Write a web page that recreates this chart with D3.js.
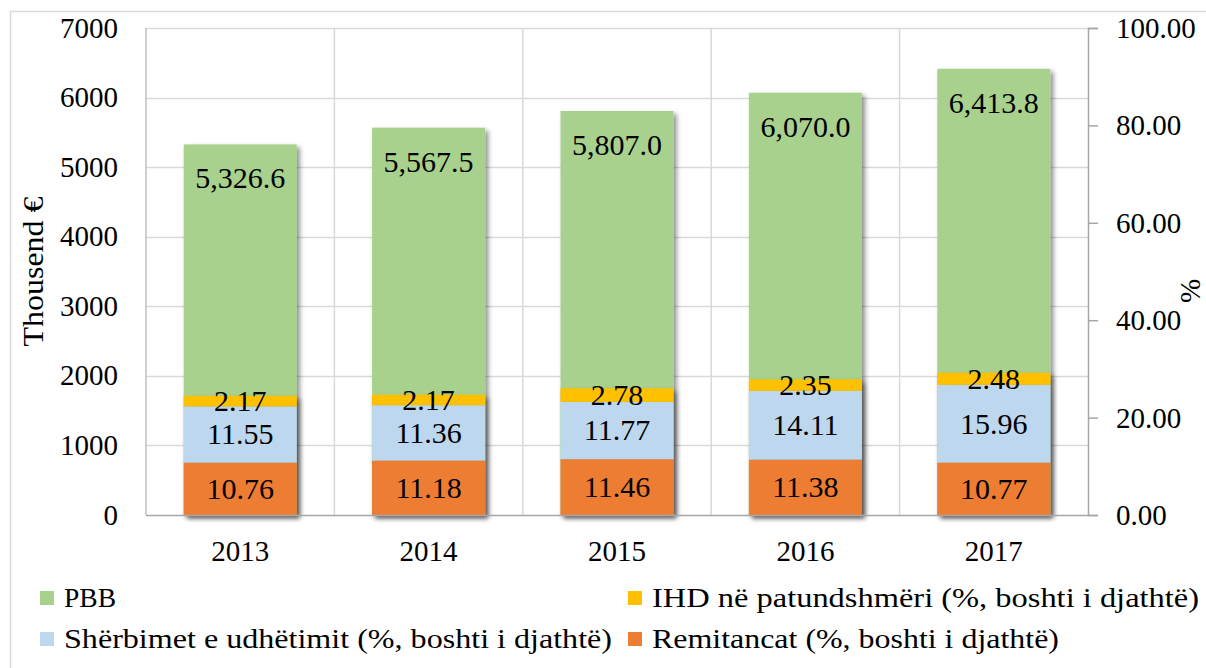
<!DOCTYPE html>
<html><head><meta charset="utf-8">
<script src="https://cdn.jsdelivr.net/npm/d3@7"></script>
<style>body{margin:0;background:#fff}svg{display:block}</style>
</head><body>
<svg id="c" width="1206" height="668"></svg>
<script>
const years = ["2013","2014","2015","2016","2017"];
const pbb = [5326.6, 5567.5, 5807.0, 6070.0, 6413.8];
const remitancat = [10.76, 11.18, 11.46, 11.38, 10.77];
const sherbimet = [11.55, 11.36, 11.77, 14.11, 15.96];
const ihd = [2.17, 2.17, 2.78, 2.35, 2.48];
const leftTicks = [0,1000,2000,3000,4000,5000,6000,7000];
const rightTicks = [0,20,40,60,80,100];
const legendNames = ["PBB","IHD në patundshmëri (%, boshti i djathtë)","Shërbimet e udhëtimit (%, boshti i djathtë)","Remitancat (%, boshti i djathtë)"];

const FONT = "'Liberation Serif', serif";
const FS = 29;
const svg = d3.select("#c");
const m = {l:146, r:1088, t:28, b:515};
const x = d3.scaleBand().domain(years).range([m.l,m.r]).paddingInner(0.4).paddingOuter(0.2);
const yL = d3.scaleLinear().domain([0,7000]).range([m.b,m.t]);
const yR = d3.scaleLinear().domain([0,100]).range([m.b,m.t]);

const defs = svg.append("defs");
const f = defs.append("filter").attr("id","sh").attr("x","-10%").attr("y","-10%").attr("width","130%").attr("height","130%");
f.append("feDropShadow").attr("dx",3).attr("dy",3).attr("stdDeviation",2.5).attr("flood-color","#000").attr("flood-opacity",0.45);

// outer frame
svg.append("rect").attr("x",10.5).attr("y",11.5).attr("width",1400).attr("height",800).attr("fill","none").attr("stroke","#d9d9d9").attr("stroke-width",1.5);

// gridlines
const g = svg.append("g");
g.selectAll("line.h").data(leftTicks.slice(1)).join("line")
 .attr("x1",m.l).attr("x2",m.r).attr("y1",d=>Math.round(yL(d))+0.5).attr("y2",d=>Math.round(yL(d))+0.5)
 .attr("stroke","#d9d9d9").attr("stroke-width",1.5);
const bounds = years.slice(1).map(y=>x(y)-x.step()*x.paddingInner()/2);
g.selectAll("line.v").data(bounds).join("line")
 .attr("x1",d=>d).attr("x2",d=>d).attr("y1",m.t).attr("y2",m.b)
 .attr("stroke","#d9d9d9").attr("stroke-width",1.5);

// bars
const data = years.map((yr,i)=>({yr, pbb:pbb[i], rem:remitancat[i], ser:sherbimet[i], ihd:ihd[i]}));
svg.append("g").selectAll("rect").data(data).join("rect")
 .attr("x",d=>x(d.yr)).attr("width",x.bandwidth())
 .attr("y",d=>yL(d.pbb)).attr("height",d=>yL(0)-yL(d.pbb))
 .attr("fill","#A9D18E").attr("filter","url(#sh)");
const stackKeys = [["rem","#ED7D31"],["ser","#BDD7EE"],["ihd","#FFC000"]];
const stackG = svg.append("g").attr("filter","url(#sh)");
data.forEach(d=>{
  let base=0;
  d.segs=[];
  stackKeys.forEach(([k,c])=>{
    d.segs.push({k,c,y0:base,y1:base+d[k],v:d[k]});
    base+=d[k];
  });
});
data.forEach(d=>{
  stackG.selectAll(null).data(d.segs).join("rect")
   .attr("x",x(d.yr)).attr("width",x.bandwidth())
   .attr("y",s=>yR(s.y1)).attr("height",s=>yR(s.y0)-yR(s.y1))
   .attr("fill",s=>s.c);
});

// axes
const axL = svg.append("g");
axL.append("line").attr("x1",m.l).attr("x2",m.l).attr("y1",m.t).attr("y2",m.b).attr("stroke","#bfbfbf").attr("stroke-width",1.5);
axL.append("line").attr("x1",m.l).attr("x2",m.r).attr("y1",m.b+0.5).attr("y2",m.b+0.5).attr("stroke","#a6a6a6").attr("stroke-width",1.5);
axL.selectAll("text").data(leftTicks).join("text")
 .attr("x",118).attr("y",d=>yL(d)).attr("dy","0.33em").attr("text-anchor","end")
 .attr("font-family",FONT).attr("font-size",FS).attr("fill","#000").text(d=>d);

const axR = svg.append("g").attr("transform",`translate(${m.r},0)`)
 .call(d3.axisRight(yR).tickValues(rightTicks).tickSize(10).tickPadding(18).tickFormat(d3.format(".2f")));
axR.select(".domain").attr("stroke","#a6a6a6").attr("stroke-width",1.5);
axR.selectAll(".tick line").attr("stroke","#a6a6a6").attr("stroke-width",1.5);
axR.selectAll(".tick text").attr("font-family",FONT).attr("font-size",FS).attr("fill","#000").attr("dy","0.33em");

// x labels
svg.append("g").selectAll("text").data(years).join("text")
 .attr("x",d=>x(d)+x.bandwidth()/2).attr("y",561).attr("text-anchor","middle")
 .attr("font-family",FONT).attr("font-size",FS).text(d=>d);

// axis titles
svg.append("text").attr("transform",`translate(33,${(m.t+m.b)/2}) rotate(-90)`).attr("text-anchor","middle").attr("dy","0.33em")
 .attr("font-family",FONT).attr("font-size",FS).attr("textLength",150).attr("lengthAdjust","spacingAndGlyphs").text("Thousend €");
svg.append("text").attr("transform",`translate(1190,291) rotate(-90)`).attr("text-anchor","middle").attr("dy","0.33em")
 .attr("font-family",FONT).attr("font-size",FS).text("%");

// labels
const fmt = d3.format(",.1f");
const lab = svg.append("g").attr("font-family",FONT).attr("font-size",30).attr("text-anchor","middle");
lab.selectAll("text.p").data(data).join("text")
 .attr("x",d=>x(d.yr)+x.bandwidth()/2).attr("y",d=>yL(d.pbb)+34).attr("dy","0.33em").text(d=>fmt(d.pbb));
data.forEach(d=>{
  lab.selectAll(null).data(d.segs).join("text")
   .attr("x",x(d.yr)+x.bandwidth()/2).attr("y",s=>yR((s.y0+s.y1)/2)).attr("dy","0.33em")
   .text(s=>s.v.toFixed(2));
});

// legend
const legColors = ["#A9D18E","#FFC000","#BDD7EE","#ED7D31"];
const legPos = [[40,598,52],[628,598,547],[40,639,548],[628,639,407]];
const lg = svg.append("g");
legendNames.forEach((t,i)=>{
  const [lx,ly,tl] = legPos[i];
  lg.append("rect").attr("x",lx).attr("y",ly-7).attr("width",14).attr("height",14).attr("fill",legColors[i]);
  lg.append("text").attr("x",lx+24).attr("y",ly).attr("dy","0.33em").attr("font-family",FONT).attr("font-size",28)
    .attr("textLength",tl).attr("lengthAdjust","spacingAndGlyphs").text(t);
});
</script>
</body></html>
